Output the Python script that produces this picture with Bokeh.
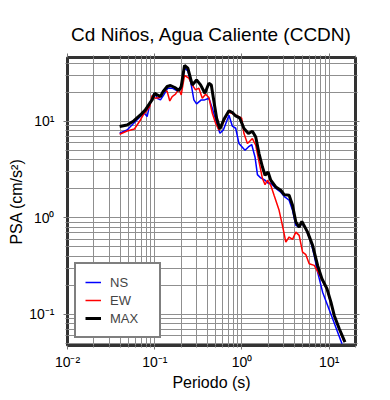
from bokeh.plotting import figure
from bokeh.models import (LogAxis, FixedTicker, CustomJSTickFormatter, Legend,
                          LegendItem, Range1d)
from bokeh.embed import file_html
from bokeh.resources import INLINE

TITLE = "Cd Niños, Agua Caliente (CCDN)"
X_LABEL = "Periodo (s)"
Y_LABEL = "PSA (cm/s²)"

# ---- data (period in s, PSA in cm/s^2) ----
ns_period = [0.0396, 0.0482, 0.0574, 0.0685, 0.0761, 0.0818, 0.0876, 0.0958, 0.1000,
             0.1066, 0.1163, 0.1269, 0.1411, 0.1585, 0.1809, 0.2011, 0.2195, 0.2395,
             0.2621, 0.2808, 0.3015, 0.3415, 0.3726, 0.4175, 0.4569, 0.5120, 0.5587,
             0.6113, 0.7090, 0.7757, 0.8466, 0.9236, 1.083, 1.185, 1.292, 1.410, 1.503,
             1.640, 1.838, 1.990, 2.137, 2.440, 2.785, 3.040, 3.469, 3.796, 4.142,
             4.521, 4.856, 5.397, 6.163, 6.725, 7.356, 8.397, 9.585, 10.94, 12.49, 14.00]
ns_psa = [7.51, 8.12, 9.53, 11.19, 12.10, 11.19, 14.75, 18.73, 19.51,
          17.31, 16.63, 18.73, 21.98, 21.98, 20.61, 21.61, 35.42, 33.2,
          23.78, 16.63, 15.11, 16.63, 16.63, 17.31, 13.64, 9.53, 7.51,
          8.12, 11.54, 8.88, 8.46, 5.87, 5.01, 5.42, 5.74, 4.27, 2.80,
          2.59, 2.45, 2.29, 2.28, 2.02, 1.84, 1.67, 1.52, 1.196, 0.836,
          0.803, 0.877, 0.773, 0.561, 0.409, 0.274, 0.170, 0.124, 0.0902, 0.0655, 0.0497]

ew_period = [0.0396, 0.0482, 0.0585, 0.0685, 0.0747, 0.0818, 0.0876, 0.0933, 0.1019,
             0.1142, 0.1269, 0.1388, 0.1487, 0.1585, 0.1730, 0.1888, 0.2011, 0.2195,
             0.2459, 0.2691, 0.2937, 0.3206, 0.3507, 0.3826, 0.4175, 0.4569, 0.4986,
             0.5440, 0.5953, 0.6942, 0.7757, 0.8853, 0.9922, 1.054, 1.154, 1.226,
             1.316, 1.437, 1.568, 1.716, 1.838, 1.959, 2.137, 2.332, 2.663, 2.960,
             3.179, 3.469, 3.796, 4.142, 4.521, 4.948, 5.397, 5.890, 6.725, 7.356,
             8.244, 9.410, 10.46, 11.41, 13.03, 14.76]
ew_psa = [7.33, 7.93, 8.32, 10.31, 11.82, 13.10, 14.20, 18.47, 17.31,
          17.60, 21.10, 20.31, 16.23, 18.03, 19.05, 21.61, 18.73, 29.76,
          27.91, 23.78, 21.10, 21.98, 17.31, 19.05, 17.60, 12.10, 9.53,
          8.12, 9.15, 12.48, 12.02, 11.35, 10.74, 7.46, 5.87, 6.21,
          6.62, 5.64, 3.79, 2.55, 2.21, 2.45, 2.17, 1.71, 1.196, 0.773,
          0.561, 0.633, 0.599, 0.712, 0.658, 0.442, 0.416, 0.335, 0.322, 0.279,
          0.230, 0.182, 0.130, 0.0953, 0.0699, 0.0525]

max_period = [0.0396, 0.0482, 0.0574, 0.0685, 0.0781, 0.0876, 0.0933, 0.1000, 0.1066,
              0.1163, 0.1249, 0.1388, 0.1515, 0.1698, 0.1888, 0.2011, 0.2195, 0.2395,
              0.2691, 0.3015, 0.3352, 0.3755, 0.4175, 0.4449, 0.4767, 0.5120, 0.5587,
              0.6211, 0.7090, 0.7757, 0.8466, 0.9410, 1.054, 1.185, 1.316, 1.437,
              1.568, 1.716, 1.838, 1.990, 2.137, 2.440, 2.785, 3.040, 3.469, 3.796,
              4.142, 4.521, 4.856, 5.645, 6.445, 7.356, 8.244, 9.410, 10.46, 11.41,
              13.03, 15.15]
max_psa = [8.81, 9.15, 10.07, 11.62, 13.10, 15.37, 16.63, 19.51, 18.73,
           18.03, 20.31, 22.88, 23.44, 22.35, 20.80, 22.88, 37.77, 35.42,
           23.78, 26.79, 23.78, 19.51, 24.76, 23.78, 16.00, 10.74, 8.32,
           10.49, 12.85, 12.31, 11.35, 10.82, 8.40, 7.46, 7.88, 6.88,
           4.63, 3.36, 2.76, 2.98, 2.45, 2.09, 1.93, 1.74, 1.71, 1.35,
           0.905, 0.803, 0.920, 0.712, 0.519, 0.322, 0.234, 0.185, 0.134, 0.0976,
           0.0711, 0.0516]

x_decades = [-2, -1, 0, 1]
y_decades = [-2, -1, 0, 1]
X_MIN, X_MAX = 0.01, 20
Y_MIN, Y_MAX = 0.0477, 45.7

FONT = "Liberation Sans"
GRID = "#8f8f8f"


def ticks(decades, lo, hi):
    major = [10.0 ** d for d in decades if lo <= 10.0 ** d <= hi]
    minor = [m * 10.0 ** d for d in decades for m in range(2, 10)
             if lo <= m * 10.0 ** d <= hi]
    return FixedTicker(ticks=major, minor_ticks=minor)


fmt_code = """
const sup = {'-':'\\u207b','0':'\\u2070','1':'\\u00b9','2':'\\u00b2','3':'\\u00b3',
             '4':'\\u2074','5':'\\u2075','6':'\\u2076','7':'\\u2077','8':'\\u2078','9':'\\u2079'};
const e = Math.round(Math.log10(tick));
return '10' + String(e).split('').map(c => sup[c]).join('');
"""

p = figure(width=390, height=400, x_axis_type="log", y_axis_type="log",
           x_range=Range1d(X_MIN, X_MAX), y_range=Range1d(Y_MIN, Y_MAX),
           output_backend="svg", toolbar_location=None,
           min_border_left=67, min_border_right=35, min_border_top=57,
           min_border_bottom=55)

p.title.text = TITLE
p.title.align = "center"
p.title.text_font = FONT
p.title.text_font_size = "19px"
p.title.text_font_style = "normal"
p.title.text_color = "black"
p.title.standoff = 17

p.outline_line_color = "#333333"
p.outline_line_width = 3
p.outline_line_alpha = 1.0
p.background_fill_color = "white"
p.border_fill_color = "white"

xt = ticks(x_decades, X_MIN, X_MAX)
yt = ticks(y_decades, Y_MIN, Y_MAX)

for ax, tk in ((p.xaxis[0], xt), (p.yaxis[0], yt)):
    ax.ticker = tk
    ax.formatter = CustomJSTickFormatter(code=fmt_code)
    ax.axis_line_color = None
    ax.major_tick_line_color = "#777777"
    ax.minor_tick_line_color = "#777777"
    ax.major_tick_out = 4
    ax.major_tick_in = 0
    ax.minor_tick_out = 2
    ax.minor_tick_in = 0
    ax.major_label_text_font = FONT
    ax.major_label_text_font_size = "14px"
    ax.major_label_text_color = "black"
    ax.axis_label_text_font = FONT
    ax.axis_label_text_font_size = "16px"
    ax.axis_label_text_font_style = "normal"
    ax.axis_label_text_color = "black"

p.xaxis[0].axis_label = X_LABEL
p.yaxis[0].axis_label = Y_LABEL
p.xaxis[0].major_label_standoff = 4
p.xaxis[0].axis_label_standoff = 1
p.yaxis[0].major_label_standoff = 9
p.yaxis[0].axis_label_standoff = 1

for side, tk in (("right", yt), ("above", xt)):
    a = LogAxis(ticker=tk, major_label_text_alpha=0.0,
                major_label_text_font_size="6px",
                axis_line_color=None, major_tick_line_color="#777777",
                minor_tick_line_color="#777777", major_tick_out=4,
                major_tick_in=0, minor_tick_out=2, minor_tick_in=0,
                major_label_standoff=0)
    p.add_layout(a, side)

for g, tk in ((p.xgrid[0], xt), (p.ygrid[0], yt)):
    g.ticker = tk
    g.grid_line_color = GRID
    g.grid_line_width = 1
    g.minor_grid_line_color = GRID
    g.minor_grid_line_width = 1

r_ns = p.line(ns_period, ns_psa, line_color="#0000ff", line_width=1.5)
r_ew = p.line(ew_period, ew_psa, line_color="#ff0000", line_width=1.5)
r_max = p.line(max_period, max_psa, line_color="black", line_width=3)

legend = Legend(items=[LegendItem(label="NS", renderers=[r_ns]),
                       LegendItem(label="EW", renderers=[r_ew]),
                       LegendItem(label="MAX", renderers=[r_max])],
                location=(7, 7), padding=9, spacing=0, margin=0,
                glyph_width=16, glyph_height=18, label_height=18,
                label_width=40, label_standoff=9,
                label_text_font=FONT, label_text_font_size="13px",
                border_line_color="black", border_line_width=2,
                background_fill_color="white", background_fill_alpha=1.0)
p.add_layout(legend)

open("out.html", "w").write(file_html(p, INLINE))
